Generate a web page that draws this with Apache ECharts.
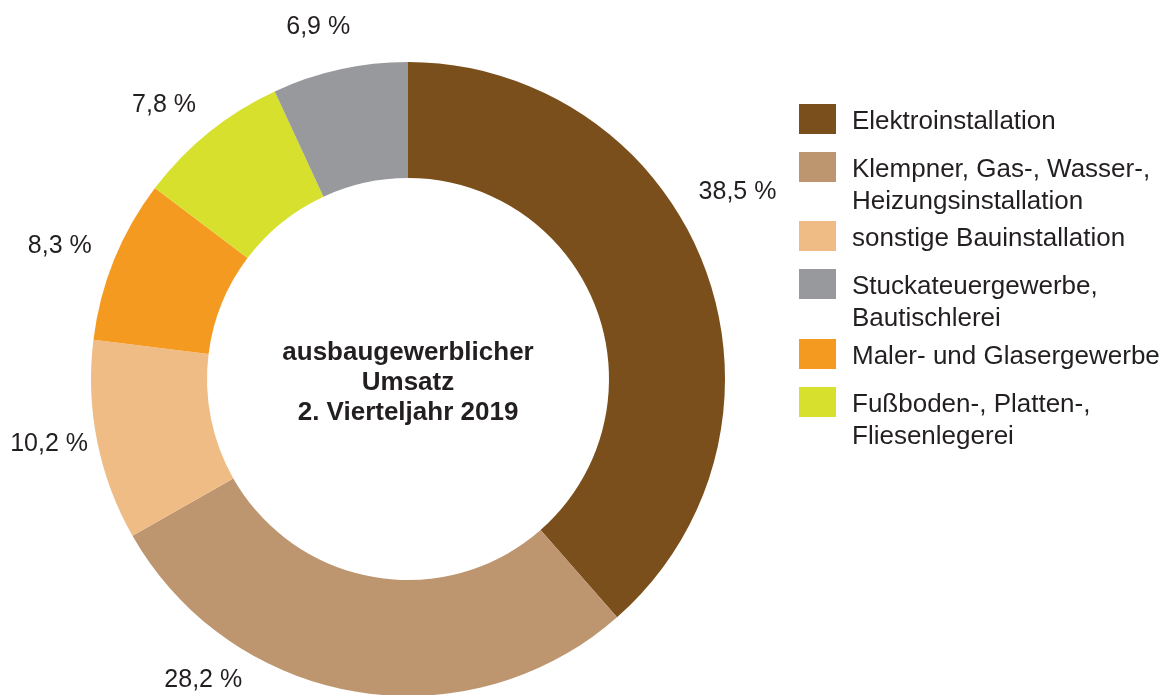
<!DOCTYPE html>
<html>
<head>
<meta charset="utf-8">
<script src="https://cdn.jsdelivr.net/npm/echarts@6/dist/echarts.min.js"></script>
<style>
  html, body { margin: 0; padding: 0; background: #fff; }
  #main { width: 1176px; height: 695px; }
</style>
</head>
<body>
<div id="main"></div>
<script>
// Anteile am ausbaugewerblichen Umsatz (Reihenfolge im Uhrzeigersinn ab 12 Uhr)
var categories = [
  'Elektroinstallation',
  'Klempner, Gas-, Wasser-,\nHeizungsinstallation',
  'sonstige Bauinstallation',
  'Maler- und Glasergewerbe',
  'Fußboden-, Platten-,\nFliesenlegerei',
  'Stuckateuergewerbe,\nBautischlerei'
];
var shares = [38.5, 28.2, 10.2, 8.3, 7.8, 6.9];
var colors = ['#7b4f1c', '#bd9670', '#efbc86', '#f59a20', '#d7e02c', '#98999c'];
// Reihenfolge in der Legende
var legendOrder = [0, 1, 2, 5, 3, 4];
var legendTops = [104, 152, 221, 269, 339, 387];

var textColor = '#231f20';
var fontFamily = '"Liberation Sans", Arial, Helvetica, sans-serif';

var chart = echarts.init(document.getElementById('main'));

var pieData = categories.map(function (name, i) {
  return { name: name, value: shares[i], itemStyle: { color: colors[i] } };
});

// eine Legende je Eintrag; das Kästchen sitzt oben im Symbolfeld,
// damit es auf Höhe der ersten Textzeile steht
var legends = legendOrder.map(function (idx, k) {
  var twoLines = categories[idx].indexOf('\n') >= 0;
  var h = twoLines ? 68 : 36;
  return {
    data: [categories[idx]],
    left: 799,
    top: legendTops[k],
    padding: 0,
    orient: 'vertical',
    itemWidth: 37,
    itemHeight: h,
    icon: 'path://M0,0H37V30H0Z M0,' + h,
    selectedMode: false,
    textStyle: {
      color: textColor,
      fontSize: 26,
      fontFamily: fontFamily,
      lineHeight: 32,
      padding: [0, 0, 0, 11]
    }
  };
});

// Beschriftungen wie im Original leicht verschoben
var labelShift = {
  0: [-13, -58], 1: [-144, -60], 2: [0, -6],
  3: [-9, 5], 4: [-14, 11], 5: [-11, 6]
};

var option = {
  backgroundColor: '#fff',
  animation: false,
  legend: legends,
  graphic: [{
    type: 'text',
    x: 408,
    y: 383,
    style: {
      text: 'ausbaugewerblicher\nUmsatz\n2. Vierteljahr 2019',
      align: 'center',
      verticalAlign: 'middle',
      fill: textColor,
      font: 'bold 26px ' + fontFamily,
      lineHeight: 30
    }
  }],
  series: [{
    type: 'pie',
    center: [408, 379],
    radius: [201, 317],
    startAngle: 90,
    clockwise: true,
    avoidLabelOverlap: false,
    label: {
      show: true,
      position: 'outside',
      distanceToLabelLine: 0,
      color: textColor,
      fontSize: 25,
      fontFamily: fontFamily,
      formatter: function (p) {
        return p.value.toFixed(1).replace('.', ',') + ' %';
      }
    },
    labelLine: { show: false, length: 49, length2: 0 },
    labelLayout: function (p) {
      var s = labelShift[p.dataIndex] || [0, 0];
      return { align: 'center', verticalAlign: 'middle', dx: s[0], dy: s[1] };
    },
    emphasis: { disabled: true },
    data: pieData
  }]
};

chart.setOption(option);
</script>
</body>
</html>
